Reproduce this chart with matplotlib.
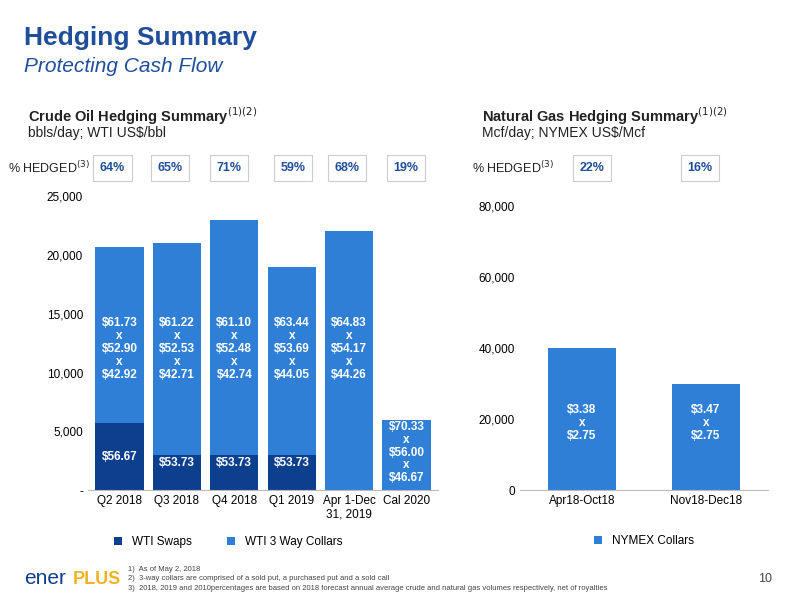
import matplotlib
matplotlib.use("Agg")
import matplotlib.pyplot as plt

plt.rcParams['font.family'] = ['Liberation Sans', 'DejaVu Sans']

oil_cats = ["Q2 2018", "Q3 2018", "Q4 2018", "Q1 2019", "Apr 1-Dec\n31, 2019", "Cal 2020"]
swaps = [5700, 3000, 3000, 3000, 0, 0]
collars = [15000, 18000, 20000, 16000, 22000, 6000]
swap_labels = ["$56.67", "$53.73", "$53.73", "$53.73", "", ""]
collar_labels = ["$61.73\nx\n$52.90\nx\n$42.92", "$61.22\nx\n$52.53\nx\n$42.71",
                 "$61.10\nx\n$52.48\nx\n$42.74", "$63.44\nx\n$53.69\nx\n$44.05",
                 "$64.83\nx\n$54.17\nx\n$44.26", "$70.33\nx\n$56.00\nx\n$46.67"]
oil_hedged = ["64%", "65%", "71%", "59%", "68%", "19%"]

gas_cats = ["Apr18-Oct18", "Nov18-Dec18"]
gas_collars = [40000, 30000]
gas_labels = ["$3.38\nx\n$2.75", "$3.47\nx\n$2.75"]
gas_hedged = ["22%", "16%"]

DARK = "#0d3f8f"
LIGHT = "#2f7fd6"
TITLE = "#1f4e9a"

fig = plt.figure(figsize=(8, 6), dpi=100)
fig.text(0.03, 0.925, "Hedging Summary", fontsize=19, fontweight="bold", color=TITLE)
fig.text(0.03, 0.88, "Protecting Cash Flow", fontsize=15, style="italic", color=TITLE)

fig.text(0.035, 0.797, r"Crude Oil Hedging Summary$^{\rm (1)(2)}$", fontsize=10.5, fontweight="bold", color="#222")
fig.text(0.035, 0.772, "bbls/day; WTI US$/bbl", fontsize=10, color="#222")
fig.text(0.602, 0.797, r"Natural Gas Hedging Summary$^{\rm (1)(2)}$", fontsize=10.5, fontweight="bold", color="#222")
fig.text(0.602, 0.772, "Mcf/day; NYMEX US$/Mcf", fontsize=10, color="#222")

ax = fig.add_axes([0.11, 0.183, 0.4375, 0.49])
x = range(len(oil_cats))
ax.bar(x, swaps, width=0.84, color=DARK, label="WTI Swaps")
ax.bar(x, collars, width=0.84, bottom=swaps, color=LIGHT, label="WTI 3 Way Collars")
for i in x:
    if swap_labels[i]:
        ax.text(i, swaps[i] / 2 if swaps[i] > 4000 else 2300, swap_labels[i], ha="center", va="center",
                color="white", fontsize=8.5, fontweight="bold")
    cy = 12000 if collars[i] > 10000 else 3200
    ax.text(i, cy, collar_labels[i], ha="center", va="center", color="white", fontsize=8.5,
            fontweight="bold", linespacing=1.1)
ax.set_ylim(0, 25000)
ax.set_xlim(-0.55, 5.55)
ax.set_yticks(range(0, 25001, 5000))
ax.set_yticklabels(["-"] + [f"{v:,}" for v in range(5000, 25001, 5000)], fontsize=8.5)
ax.set_xticks(list(x))
ax.set_xticklabels(oil_cats, fontsize=8.5)
for s in ["top", "right", "left"]:
    ax.spines[s].set_visible(False)
ax.spines["bottom"].set_color("#bbbbbb")
ax.tick_params(length=0)
ax.legend(loc="upper center", bbox_to_anchor=(0.4, -0.12), ncol=2, frameon=False, fontsize=8.5,
          handlelength=0.7, handleheight=0.7, columnspacing=3)

ax2 = fig.add_axes([0.65, 0.183, 0.31, 0.474])
ax2.bar(range(2), gas_collars, width=0.55, color=LIGHT, label="NYMEX Collars")
for i in range(2):
    ax2.text(i, 19000, gas_labels[i], ha="center", va="center", color="white", fontsize=8.5,
             fontweight="bold", linespacing=1.1)
ax2.set_ylim(0, 80000)
ax2.set_xlim(-0.5, 1.5)
ax2.set_yticks(range(0, 80001, 20000))
ax2.set_yticklabels(["0"] + [f"{v:,}" for v in range(20000, 80001, 20000)], fontsize=8.5)
ax2.set_xticks([0, 1])
ax2.set_xticklabels(gas_cats, fontsize=8.5)
for s in ["top", "right", "left"]:
    ax2.spines[s].set_visible(False)
ax2.spines["bottom"].set_color("#bbbbbb")
ax2.tick_params(length=0)
ax2.legend(loc="upper center", bbox_to_anchor=(0.5, -0.12), ncol=1, frameon=False, fontsize=8.5,
           handlelength=0.7, handleheight=0.7)

fig.text(0.01, 0.72, r"% HEDGED$^{\rm (3)}$", fontsize=9, color="#222", va="center")
oil_box_x = [112, 170, 229, 293, 347, 406]
for t, px in zip(oil_hedged, oil_box_x):
    fig.text(px / 800, 0.72, t, fontsize=9, fontweight="bold", color=TITLE, ha="center", va="center",
             bbox=dict(boxstyle="square,pad=0.55", fc="white", ec="#cccccc", lw=0.8))
fig.text(0.59, 0.72, r"% HEDGED$^{\rm (3)}$", fontsize=9, color="#222", va="center")
for t, px in zip(gas_hedged, [592, 700]):
    fig.text(px / 800, 0.72, t, fontsize=9, fontweight="bold", color=TITLE, ha="center", va="center",
             bbox=dict(boxstyle="square,pad=0.55", fc="white", ec="#cccccc", lw=0.8))

fig.text(0.03, 0.035, "ener", fontsize=15, color=DARK, va="center")
fig.text(0.091, 0.035, "PLUS", fontsize=13, color="#f0b323", fontweight="bold", va="center")
fig.text(0.16, 0.035, "1)  As of May 2, 2018\n2)  3-way collars are comprised of a sold put, a purchased put and a sold call\n"
         "3)  2018, 2019 and 2010percentages are based on 2018 forecast annual average crude and natural gas volumes respectively, net of royalties",
         fontsize=5.5, color="#444", va="center", linespacing=1.5)
fig.text(0.965, 0.035, "10", fontsize=9, color="#444", va="center", ha="right")

fig.savefig("out.png", dpi=100)
